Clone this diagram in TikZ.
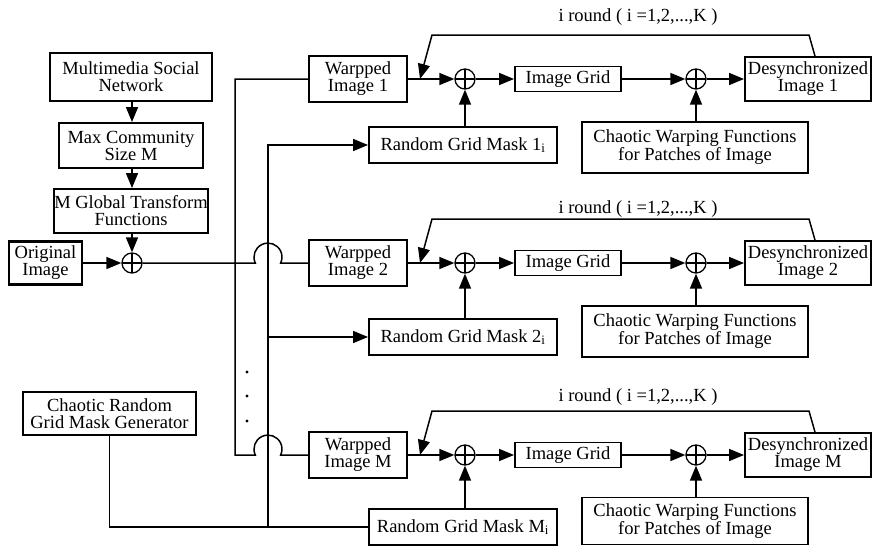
\documentclass[tikz,border=0pt]{standalone}
\usepackage{fontspec}
\setmainfont{Liberation Serif}
\usetikzlibrary{arrows.meta}
\begin{document}
\begin{tikzpicture}[x=1pt,y=-1pt,
  box/.style={draw, line width=1.9pt, inner sep=0pt, align=center, font=\fontsize{18.5}{17}\selectfont},
  thickbox/.style={box, line width=2.5pt},
  conn/.style={line width=1.5pt},
  arr/.style={conn, -{Triangle[length=15pt,width=12pt]}},
  oplus/.style={draw, circle, line width=1.3pt, minimum size=20pt, inner sep=0pt,
    path picture={\draw[line width=1.2pt] (path picture bounding box.north) -- (path picture bounding box.south)
      (path picture bounding box.west) -- (path picture bounding box.east);}},
  lbl/.style={inner sep=0pt, font=\fontsize{18.5}{17}\selectfont}
]
\useasboundingbox (0,0) rectangle (876,546);

% left column
\node[box, minimum width=162pt, minimum height=48pt] (msn) at (131,77) {Multimedia Social\\Network};
\node[box, minimum width=144pt, minimum height=45pt] (mcs) at (131,145.5) {Max Community\\Size M};
\node[box, minimum width=154pt, minimum height=44pt] (mgt) at (131,211) {M Global Transform\\Functions};
\node[thickbox, minimum width=73pt, minimum height=43pt] (orig) at (45.5,263) {Original\\Image};
\node[oplus] (p0) at (132,263) {};
\node[thickbox, minimum width=173pt, minimum height=43pt] (crg) at (109.5,413.5) {Chaotic Random\\Grid Mask Generator};

\draw[arr] (msn.south -| p0) -- (mcs.north -| p0);
\draw[arr] (mcs.south -| p0) -- (mgt.north -| p0);
\draw[arr] (mgt.south -| p0) -- (p0);
\draw[arr] (orig) -- (p0);

% rows
\foreach \r/\y/\ry/\cy/\ch/\ly in {1/79/145/147.5/51/17, 2/263/337/331.5/51/209, M/455/527/521/47/397}{
  \node[box, minimum width=98pt, minimum height=46pt] (w\r) at (358,\y) {Warpped\\Image \r};
  \node[oplus] (a\r) at (465,\y) {};
  \node[box, minimum width=106pt, minimum height=25pt] (g\r) at (568,\y) {Image Grid};
  \node[oplus] (b\r) at (696,\y) {};
  \node[box, minimum width=126pt, minimum height=44pt] (d\r) at (808,\y) {Desynchronized\\Image \r};
  \node[box, minimum width=226pt, minimum height=\ch pt] (c\r) at (695,\cy) {Chaotic Warping Functions\\for Patches of Image};
  \node[box, minimum width=188pt, minimum height=36pt] (m\r) at (463,\ry) {Random Grid Mask \r\textsubscript{i}};
  \node[lbl] (l\r) at (638,\ly) {i round ( i =1,2,...,K )};
  \coordinate (fa\r) at (420,\y);
  \coordinate (fb\r) at (432,\y-44);
  \coordinate (fc\r) at (809,\y-44);
  \draw[arr] (w\r) -- (a\r);
  \draw[arr] (a\r) -- (g\r);
  \draw[arr] (g\r) -- (b\r);
  \draw[arr] (b\r) -- (d\r);
  \draw[arr] (m\r.north -| a\r) -- (a\r);
  \draw[arr] (c\r.north -| b\r) -- (b\r);
  \draw[arr] ([xshift=7pt]d\r.north) -- (fc\r) -- (fb\r) -- (fa\r);
}

% distribution bus from the first adder
\coordinate (jt) at (235,79);
\coordinate (jb) at (235,455);
\coordinate (h2) at (255.3,263);
\coordinate (hM) at (255.3,455);
\draw[conn] (p0) -- (h2) arc[start angle=205, end angle=-25, radius=14pt] -- (w2.west);
\draw[conn] (w1.west) -- (jt) -- (jb) -- (hM) arc[start angle=205, end angle=-25, radius=14pt] -- (wM.west);

% grid mask bus
\coordinate (kb) at (268,527);
\coordinate (k2) at (268,337);
\draw[conn] (crg.south) |- (mM.west);
\draw[arr] (kb) |- (m1.west);
\draw[arr] (k2) -- (m2.west);

% dots
\foreach \yy in {372,396,421} \fill (247,\yy) circle[radius=1.7pt];
\end{tikzpicture}
\end{document}
